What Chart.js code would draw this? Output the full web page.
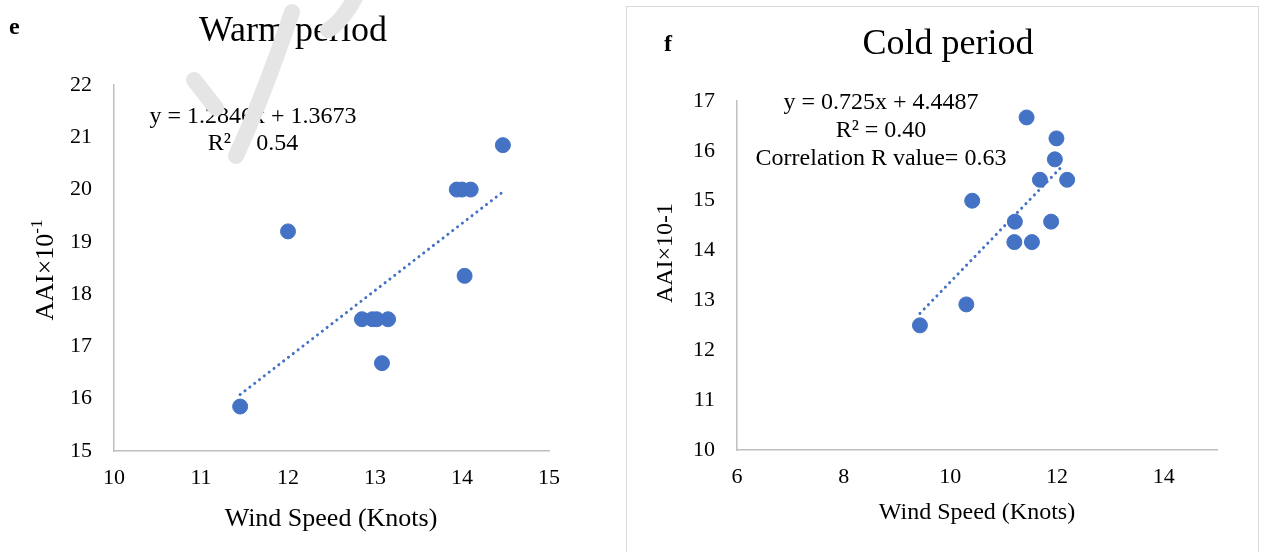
<!DOCTYPE html>
<html>
<head>
<meta charset="utf-8">
<script src="https://cdn.jsdelivr.net/npm/chart.js@4.4.0/dist/chart.umd.min.js"></script>
<style>
  body { margin: 0; background: #fff; width: 1262px; height: 552px; overflow: hidden; position: relative; }
  #warmBox { position: absolute; left: 0; top: 0; width: 620px; height: 552px; }
  #coldFrame { position: absolute; left: 626px; top: 6px; width: 631px; height: 560px; border: 1px solid #d9d9d9; }
  #coldBox { position: absolute; left: 626px; top: 0; width: 636px; height: 552px; }
</style>
</head>
<body>
<div id="warmBox"><canvas id="warmChart"></canvas></div>
<div id="coldFrame"></div>
<div id="coldBox"><canvas id="coldChart"></canvas></div>
<script>
'use strict';

// data -----------------------------------------------------------------------
let warmWind = [11.45, 12.0, 12.85, 12.97, 13.02, 13.15, 13.08, 13.94, 14.0, 14.1, 14.03, 14.47];
let warmAai = [15.85, 19.2, 17.52, 17.52, 17.52, 17.52, 16.68, 20.0, 20.0, 20.0, 18.35, 20.85];
let warmTrendX = [11.45, 14.45];
let warmTrendY = [16.08, 19.93];

let coldWind = [11.43, 11.99, 11.96, 11.68, 12.19, 10.41, 11.21, 11.89, 11.2, 11.53, 10.3, 9.43];
let coldAai = [16.67, 16.25, 15.83, 15.42, 15.42, 15.0, 14.58, 14.58, 14.17, 14.17, 12.92, 12.5];
let coldTrendX = [9.43, 12.13];
let coldTrendY = [12.74, 15.73];

let warmXTicks = [10, 11, 12, 13, 14, 15];
let warmYTicks = [15, 16, 17, 18, 19, 20, 21, 22];
let coldXTicks = [6, 8, 10, 12, 14];
let coldYTicks = [10, 11, 12, 13, 14, 15, 16, 17];

let warmNotes = ['y = 1.2846x + 1.3673', 'R² = 0.54'];
let coldNotes = ['y = 0.725x + 4.4487', 'R² = 0.40', 'Correlation R value= 0.63'];

const blue = '#4472c4';
const axisGrey = '#bfbfbf';
const serif = '"Liberation Serif", "Times New Roman", serif';

function toPoints(xs, ys) {
  let pts = [];
  for (let i = 0; i < xs.length; i++) {
    pts.push({ x: xs[i], y: ys[i] });
  }
  return pts;
}

// faint page watermark strokes that sit over the warm-period panel
function drawWatermark(ctx) {
  ctx.save();
  ctx.strokeStyle = '#e5e5e5';
  ctx.lineWidth = 16;
  ctx.lineCap = 'round';
  ctx.beginPath();
  ctx.moveTo(194, 80);
  ctx.lineTo(216, 108);
  ctx.stroke();
  ctx.beginPath();
  ctx.moveTo(236, 156);
  ctx.quadraticCurveTo(262, 100, 292, 12);
  ctx.stroke();
  ctx.beginPath();
  ctx.moveTo(328, 30);
  ctx.quadraticCurveTo(342, 22, 356, -4);
  ctx.stroke();
  ctx.restore();
}

// draws titles, panel letter, axis titles and equation text
function textPlugin(cfg) {
  return {
    id: 'texts',
    afterDraw(chart) {
      let ctx = chart.ctx;
      ctx.save();
      ctx.fillStyle = '#000';
      ctx.textBaseline = 'middle';

      ctx.font = 'bold 24px ' + serif;
      ctx.textAlign = 'left';
      ctx.fillText(cfg.letter, cfg.letterX, cfg.letterY);

      ctx.font = '36px ' + serif;
      ctx.textAlign = 'center';
      ctx.fillText(cfg.title, cfg.titleX, cfg.titleY);

      ctx.font = cfg.axisFont + 'px ' + serif;
      ctx.fillText('Wind Speed (Knots)', cfg.xTitleX, cfg.xTitleY);

      ctx.save();
      ctx.translate(cfg.yTitleX, cfg.yTitleY);
      ctx.rotate(-Math.PI / 2);
      if (cfg.superscript) {
        let base = 'AAI×10';
        let sup = '-1';
        ctx.font = cfg.axisFont + 'px ' + serif;
        let w1 = ctx.measureText(base).width;
        ctx.font = Math.round(cfg.axisFont * 0.65) + 'px ' + serif;
        let w2 = ctx.measureText(sup).width;
        let start = -(w1 + w2) / 2;
        ctx.textAlign = 'left';
        ctx.font = cfg.axisFont + 'px ' + serif;
        ctx.fillText(base, start, 0);
        ctx.font = Math.round(cfg.axisFont * 0.65) + 'px ' + serif;
        ctx.fillText(sup, start + w1, -8);
      } else {
        ctx.fillText('AAI×10-1', 0, 0);
      }
      ctx.restore();

      ctx.font = '24px ' + serif;
      ctx.textAlign = 'center';
      for (let i = 0; i < cfg.notes.length; i++) {
        ctx.fillText(cfg.notes[i], cfg.noteX, cfg.noteY + i * cfg.noteGap);
      }

      if (cfg.watermark) {
        drawWatermark(ctx);
      }
      ctx.restore();
    }
  };
}

function buildChart(canvasId, opts) {
  let ctx = document.getElementById(canvasId).getContext('2d');
  let chartObject = {
    type: 'scatter',
    data: {
      datasets: [
        {
          label: 'AAI',
          data: toPoints(opts.xs, opts.ys),
          backgroundColor: blue,
          borderColor: blue,
          pointRadius: 7.5,
          pointHoverRadius: 7.5,
          order: 1
        },
        {
          label: 'Linear trend',
          type: 'line',
          data: toPoints(opts.trendX, opts.trendY),
          borderColor: blue,
          borderWidth: 3,
          borderDash: [0.1, 6],
          borderCapStyle: 'round',
          pointRadius: 0,
          fill: false,
          order: 2
        }
      ]
    },
    options: {
      responsive: false,
      animation: false,
      events: [],
      layout: { padding: { left: 0, right: opts.padRight, top: opts.padTop, bottom: 0 } },
      plugins: {
        legend: { display: false },
        tooltip: { enabled: false },
        title: { display: false }
      },
      scales: {
        x: {
          type: 'linear',
          min: opts.xTicks[0],
          max: opts.xMax,
          afterBuildTicks(scale) {
            scale.ticks = opts.xTicks.map(v => ({ value: v }));
          },
          afterFit(scale) { scale.height = opts.xAxisHeight; },
          grid: { display: false, drawTicks: false },
          border: { display: true, color: axisGrey, width: 1.5 },
          ticks: {
            padding: 14,
            color: '#000',
            font: { family: serif, size: 22 }
          }
        },
        y: {
          type: 'linear',
          min: opts.yTicks[0],
          max: opts.yTicks[opts.yTicks.length - 1],
          afterBuildTicks(scale) {
            scale.ticks = opts.yTicks.map(v => ({ value: v }));
          },
          afterFit(scale) { scale.width = opts.yAxisWidth; },
          grid: { display: false, drawTicks: false },
          border: { display: true, color: axisGrey, width: 1.5 },
          ticks: {
            padding: 22,
            color: '#000',
            font: { family: serif, size: 22 }
          }
        }
      }
    },
    plugins: [textPlugin(opts.text)]
  };
  return new Chart(ctx, chartObject);
}

let warmCanvas = document.getElementById('warmChart');
warmCanvas.width = 620;
warmCanvas.height = 552;
let coldCanvas = document.getElementById('coldChart');
coldCanvas.width = 636;
coldCanvas.height = 552;

buildChart('warmChart', {
  xs: warmWind, ys: warmAai, trendX: warmTrendX, trendY: warmTrendY,
  xTicks: warmXTicks, xMax: 15, yTicks: warmYTicks,
  padTop: 85, padRight: 71, xAxisHeight: 101, yAxisWidth: 114,
  text: {
    letter: 'e', letterX: 9, letterY: 28,
    title: 'Warm period', titleX: 293, titleY: 32,
    axisFont: 26,
    xTitleX: 331, xTitleY: 519,
    yTitleX: 46, yTitleY: 270, superscript: true,
    notes: warmNotes, noteX: 253, noteY: 117, noteGap: 27,
    watermark: true
  }
});

buildChart('coldChart', {
  xs: coldWind, ys: coldAai, trendX: coldTrendX, trendY: coldTrendY,
  xTicks: coldXTicks, xMax: 15, yTicks: coldYTicks,
  padTop: 101, padRight: 45, xAxisHeight: 102, yAxisWidth: 111,
  text: {
    letter: 'f', letterX: 38, letterY: 45,
    title: 'Cold period', titleX: 322, titleY: 45,
    axisFont: 24,
    xTitleX: 351, xTitleY: 513,
    yTitleX: 40, yTitleY: 253, superscript: false,
    notes: coldNotes, noteX: 255, noteY: 103, noteGap: 28,
    watermark: false
  }
});
</script>
</body>
</html>
